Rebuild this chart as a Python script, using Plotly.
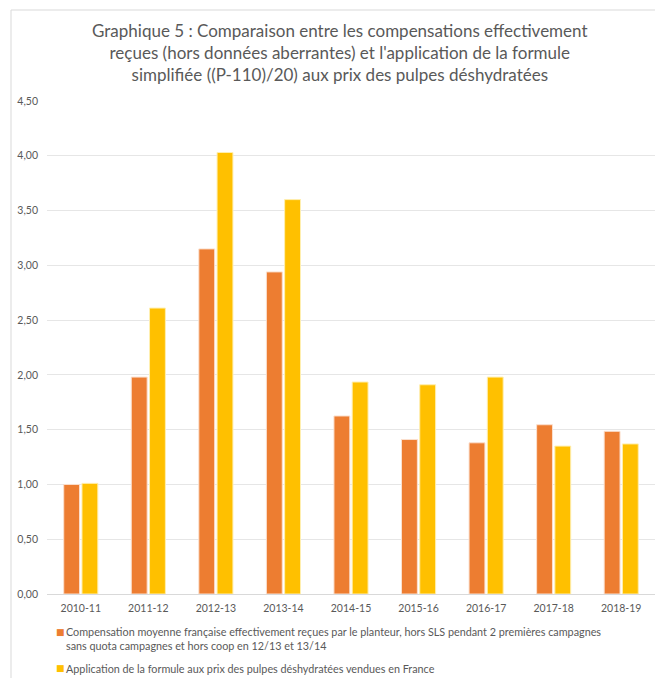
import plotly.graph_objects as go

categories = ["2010-11", "2011-12", "2012-13", "2013-14", "2014-15",
              "2015-16", "2016-17", "2017-18", "2018-19"]
compensation = [1.00, 1.98, 3.15, 2.94, 1.625, 1.41, 1.38, 1.545, 1.485]
formule = [1.01, 2.61, 4.03, 3.60, 1.935, 1.91, 1.98, 1.35, 1.37]

name_comp = "Compensation moyenne française effectivement reçues par le planteur, hors SLS pendant 2 premières campagnes<br>sans quota campagnes et hors coop en 12/13 et 13/14"
name_form = "Application de la formule aux prix des pulpes déshydratées vendues en France"
title_text = ("Graphique 5 : Comparaison entre les compensations effectivement<br>"
              "reçues (hors données aberrantes) et l'application de la formule<br>"
              "simplifiée ((P-110)/20) aux prix des pulpes déshydratées")

ORANGE = "#ED7D31"
YELLOW = "#FFC000"
GREY = "#595959"
FONT = "Lato"

W, H = 655, 678
L, R, T, B = 47, 0, 101, 84
pw, ph = W - L - R, H - T - B

def px(x):
    return (x - L) / pw

def py(y):
    return (H - B - y) / ph

fig = go.Figure()
fig.add_trace(go.Bar(x=categories, y=compensation, name=name_comp,
                     marker=dict(color=ORANGE, line=dict(color="#FBE0CF", width=1))))
fig.add_trace(go.Bar(x=categories, y=formule, name=name_form,
                     marker=dict(color=YELLOW, line=dict(color="#FFEFB0", width=1))))

fig.update_layout(
    width=W, height=H,
    margin=dict(l=L, r=R, t=T, b=B, pad=0),
    paper_bgcolor="white", plot_bgcolor="white",
    barmode="group", bargap=0.46, bargroupgap=0.13,
    showlegend=False,
    separators=", ",
    font=dict(family=FONT, color=GREY, size=10),
)
fig.update_yaxes(range=[0, 4.5], dtick=0.5, tickformat=".2f",
                 showgrid=True, gridcolor="#E6E6E6", gridwidth=1,
                 zeroline=False, showline=False, ticks="", ticklen=0,
                 ticklabelstandoff=8,
                 tickfont=dict(family=FONT, size=10.5, color=GREY))
fig.update_xaxes(type="category", showline=True, linecolor="#D9D9D9", linewidth=1,
                 ticks="", ticklabelstandoff=4,
                 tickfont=dict(family=FONT, size=10.5, color=GREY))

# title
fig.add_annotation(text=title_text, xref="paper", yref="paper",
                   x=px(340), y=py(18), xanchor="center", yanchor="top",
                   showarrow=False, align="center",
                   font=dict(family=FONT, size=17, color=GREY))

# legend (text-based)
fig.add_annotation(text="■", xref="paper", yref="paper", x=px(54), y=py(632),
                   xanchor="left", yanchor="middle", showarrow=False,
                   font=dict(family="DejaVu Sans", size=9, color=ORANGE))
fig.add_annotation(text=name_comp, xref="paper", yref="paper", x=px(64), y=py(623),
                   xanchor="left", yanchor="top", showarrow=False, align="left",
                   font=dict(family=FONT, size=10.8, color=GREY))
fig.add_annotation(text="■", xref="paper", yref="paper", x=px(54), y=py(668),
                   xanchor="left", yanchor="middle", showarrow=False,
                   font=dict(family="DejaVu Sans", size=9, color=YELLOW))
fig.add_annotation(text=name_form, xref="paper", yref="paper", x=px(64), y=py(668),
                   xanchor="left", yanchor="middle", showarrow=False, align="left",
                   font=dict(family=FONT, size=10.8, color=GREY))

# outer chart border
fig.add_shape(type="rect", xref="paper", yref="paper",
              x0=px(11), x1=px(680), y0=py(700), y1=py(10),
              line=dict(color="#D9D9D9", width=1), fillcolor="rgba(0,0,0,0)",
              layer="below")

fig.write_html("out.html")
